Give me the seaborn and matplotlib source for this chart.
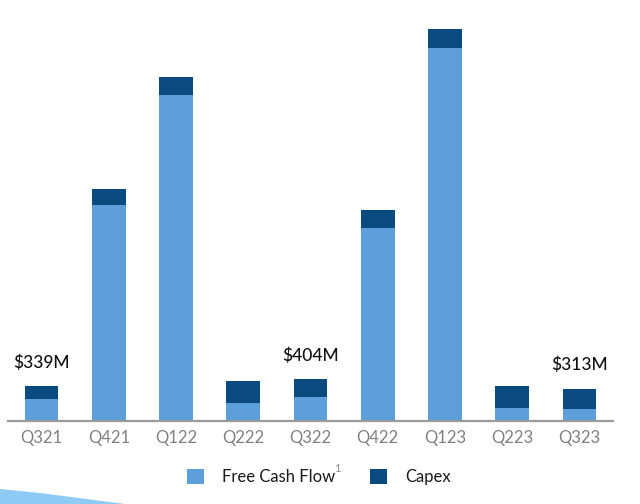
import numpy as np
import matplotlib
matplotlib.use("Agg")
import matplotlib.pyplot as plt
from matplotlib.patches import Patch, Polygon
import seaborn as sns

# ---- data ($M) ----
quarters = ["Q321", "Q421", "Q122", "Q222", "Q322", "Q422", "Q123", "Q223", "Q323"]
free_cash_flow = [211, 2109, 3187, 172, 230, 1887, 3653, 120, 113]
capex = [128, 160, 179, 218, 174, 179, 184, 218, 200]
labeled_quarters = ["Q321", "Q322", "Q323"]
series_names = ["Free Cash Flow", "Capex"]

totals = [f + c for f, c in zip(free_cash_flow, capex)]

light = "#5C9FDA"
dark = "#0A4A7E"

sns.set_theme(style="white")
plt.rcParams["font.family"] = ["Lato", "DejaVu Sans"]

fig = plt.figure(figsize=(6.4, 5.04), dpi=100)
ax = fig.add_axes([8 / 640, 1 - 420.5 / 504, (613 - 8) / 640, 420.5 / 504])

sns.barplot(x=quarters, y=totals, order=quarters, color=dark, width=0.5,
            saturation=1, linewidth=0, ax=ax)
sns.barplot(x=quarters, y=free_cash_flow, order=quarters, color=light, width=0.5,
            saturation=1, linewidth=0, ax=ax)

ax.set_xlim(-0.5, len(quarters) - 0.5)
ax.set_ylim(0, 420.5 * 9.8)
ax.set_yticks([])
ax.set_xlabel("")
ax.set_ylabel("")
for s in ["top", "right", "left"]:
    ax.spines[s].set_visible(False)
ax.spines["bottom"].set_color("#9a9a9a")
ax.spines["bottom"].set_linewidth(1.6)
ax.tick_params(axis="x", length=0, pad=7, labelsize=12, labelcolor="#808080")

for q in labeled_quarters:
    i = quarters.index(q)
    ax.annotate(f"${totals[i]:.0f}M", xy=(i, totals[i]), xytext=(0, 11),
                textcoords="offset points", ha="center", va="bottom",
                fontsize=12.5, fontweight="medium", color="#111111")

handles = [Patch(facecolor=light, edgecolor="none"), Patch(facecolor=dark, edgecolor="none")]
leg = fig.legend(handles, series_names, loc="center left",
                 bbox_to_anchor=(187 / 640, 1 - 477 / 504), ncol=2, frameon=False,
                 fontsize=12, handlelength=1.0, handleheight=1.0, handletextpad=1.1,
                 columnspacing=2.1, borderpad=0, borderaxespad=0)
for t in leg.get_texts():
    t.set_color("#1a1a1a")

# superscript footnote marker after "Free Cash Flow"
fig.canvas.draw()
bb = leg.get_texts()[0].get_window_extent()
fig.text(bb.x1 / 640 - 0.001, (bb.y1 + 6) / 504, "1", fontsize=8, color="#8a8a8a",
         ha="left", va="top")

# decorative swoosh bottom-left
fig.patches.append(Polygon([[0, 1 - 489 / 504], [40 / 640, 1 - 493 / 504],
                            [125 / 640, 0], [0, 0]], closed=True,
                           transform=fig.transFigure, facecolor="#8DCBF4",
                           edgecolor="none"))

fig.savefig("out.png", dpi=100)
